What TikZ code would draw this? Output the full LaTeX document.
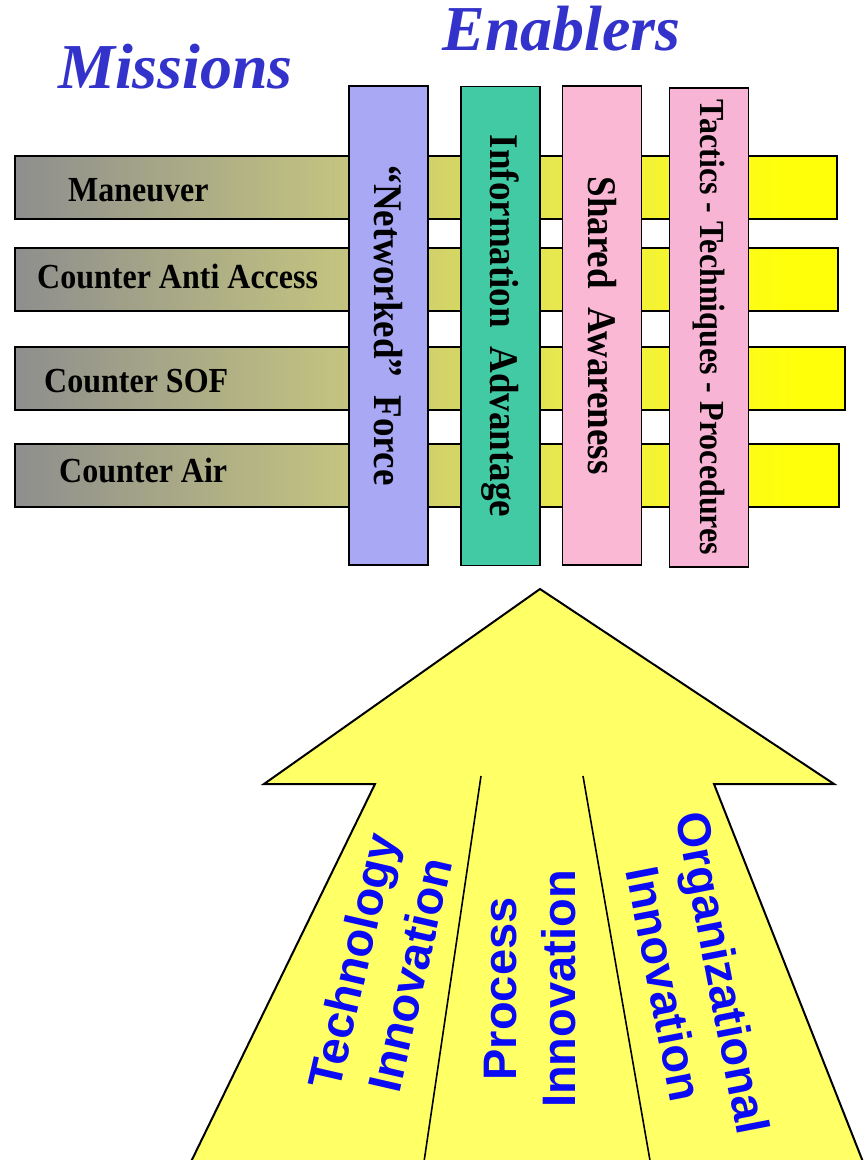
\documentclass[tikz,border=0pt]{standalone}
\usepackage{graphicx}
\usepackage{fontspec}
\setmainfont{Liberation Serif}
\setsansfont{Liberation Sans}
\definecolor{mgray}{RGB}{142,142,142}
\definecolor{molive}{RGB}{196,196,128}
\definecolor{mol2}{RGB}{214,214,100}
\definecolor{myel2}{RGB}{238,238,70}
\definecolor{myel}{RGB}{255,255,10}
\definecolor{titleblue}{RGB}{51,51,204}
\definecolor{cnet}{RGB}{168,168,244}
\definecolor{cinfo}{RGB}{66,202,164}
\definecolor{cshared}{RGB}{250,184,212}
\definecolor{ctact}{RGB}{248,180,212}
\definecolor{arrowyel}{RGB}{255,255,102}
\definecolor{textblue}{RGB}{10,10,245}
\newcommand{\tallx}[1]{\scalebox{1}[1.1]{#1}}
\pgfdeclarehorizontalshading{mshade}{100bp}{color(0bp)=(mgray); color(25bp)=(mgray); color(45bp)=(molive); color(52bp)=(mol2); color(60bp)=(myel2); color(72bp)=(myel); color(100bp)=(myel)}
\tikzset{
  mbar/.style={draw=black, line width=2pt, shading=mshade, minimum height=63pt, anchor=north west, inner sep=0pt},
  mlabel/.style={font=\bfseries\fontsize{32}{36}\selectfont, inner sep=0pt, anchor=base west},
  vbar/.style={draw=black, line width=1.6pt, rotate=-90, minimum width=479pt, minimum height=79pt, inner sep=0pt, font=\bfseries\fontsize{37}{40}\selectfont},
  title/.style={font=\bfseries\itshape\fontsize{64}{70}\selectfont, text=titleblue, inner sep=0pt, anchor=base},
  arrowshape/.style={draw=black, line width=2pt, fill=arrowyel, line join=miter},
  divider/.style={draw=black, line width=1.6pt},
  atext/.style={font=\sffamily\bfseries\fontsize{47}{59}\selectfont, text=textblue, align=center, inner sep=0pt}
}
\begin{document}
\begin{tikzpicture}[x=1pt,y=-1pt]
\useasboundingbox (0,0) rectangle (867,1160);
\clip (0,0) rectangle (867,1160);
\fill[white] (0,0) rectangle (867,1160);

% titles
\node[title] (missions) at (175.5,88) {Missions};
\node[title] (enablers) at (561.5,50) {Enablers};

% mission bars
\node[mbar, minimum width=822pt] (m1) at (14,155) {};
\node[mbar, minimum width=823pt] (m2) at (14,247) {};
\node[mbar, minimum width=830pt] (m3) at (14,346) {};
\node[mbar, minimum width=824pt] (m4) at (14,443) {};
\node[mlabel] (l1) at (68,201) {\tallx{Maneuver}};
\node[mlabel] (l2) at (37,288) {\tallx{Counter Anti Access}};
\node[mlabel] (l3) at (44,392) {\tallx{Counter SOF}};
\node[mlabel] (l4) at (59,482) {\tallx{Counter Air}};

% enabler bars
\node[vbar, fill=cnet] (e1) at (388.5,325.5) {\tallx{“Networked”\hspace{0.25em} Force}};
\node[vbar, fill=cinfo] (e2) at (500.5,326) {\tallx{Information\hspace{0.25em} Advantage}};
\node[vbar, fill=cshared] (e3) at (602,325.5) {\tallx{Shared\hspace{0.25em} Awareness}};
\node[vbar, fill=ctact, font=\bfseries\fontsize{32}{36}\selectfont] (e4) at (709,327.5) {\tallx{Tactics - Techniques - Procedures}};

% big arrow
\coordinate (tip) at (540,589);
\coordinate (lw) at (264,784);
\coordinate (li) at (375,784);
\coordinate (lb) at (186,1172);
\coordinate (rw) at (834,784);
\coordinate (ri) at (714,784);
\coordinate (rb) at (867,1172);
\draw[arrowshape] (lb) -- (li) -- (lw) -- (tip) -- (rw) -- (ri) -- (rb) -- cycle;
\coordinate (d1t) at (481,776);
\coordinate (d1b) at (422.5,1172);
\coordinate (d2t) at (583,776);
\coordinate (d2b) at (652,1172);
\draw[divider] (d1t) -- (d1b);
\draw[divider] (d2t) -- (d2b);

\node[atext, rotate=77] (t1) at (381,968) {Technology\\Innovation};
\node[atext, rotate=90] (t2) at (530,989) {Process\\Innovation};
\node[atext, rotate=-79] (t3) at (694,978) {Organizational\\Innovation};
\end{tikzpicture}
\end{document}
